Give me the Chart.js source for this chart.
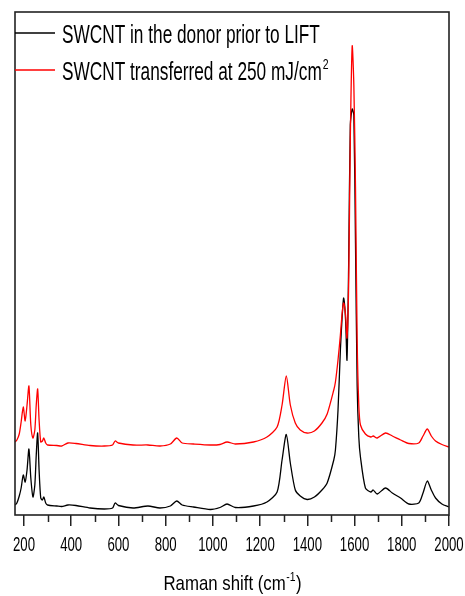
<!DOCTYPE html>
<html>
<head>
<meta charset="utf-8">
<script src="https://cdn.jsdelivr.net/npm/chart.js@4.4.1/dist/chart.umd.min.js"></script>
<style>
    html, body { margin: 0; padding: 0; background: #fff; }
</style>
</head>
<body>
<canvas id="ramanChart" width="465" height="596"></canvas>
<script>
// Data (intensitas dalam satuan sembarang)
const ramanShift = [
    162, 170, 180, 188, 197, 205, 213, 221, 229, 238, 246, 252, 258, 264, 271, 278, 284, 292, 300,
    339, 360, 386, 420, 480, 540, 575, 586, 600, 662, 725, 776, 820, 847, 870, 918, 989, 1030,
    1060, 1095, 1172, 1229, 1272, 1293, 1311, 1328, 1349, 1370, 1399, 1430, 1462, 1484, 1512,
    1519, 1530, 1540, 1548, 1554, 1562, 1568, 1575, 1582, 1590, 1597, 1604, 1611, 1618, 1625,
    1646, 1669, 1679, 1696, 1731, 1760, 1795, 1830, 1872, 1890, 1908, 1925, 1943, 1970, 2000
];
const donorIntensity = [
    10, 12, 19, 27, 40, 33, 45, 66, 37, 18, 30, 60, 82, 45, 17, 15, 18, 12, 10,
    9, 8.5, 10, 9.5, 7, 6, 7, 12, 9.5, 7, 9, 7, 9, 14, 10, 8, 5.5, 7.5,
    11, 7.5, 9, 13, 23, 55, 80.5, 52, 25, 19, 15.5, 18, 25, 32, 55,
    65, 105, 165, 200, 217, 195, 155, 250, 390, 406, 400, 272, 130, 78, 58,
    27, 23, 25, 21, 27, 22, 17, 11, 12, 22, 34, 25, 17, 11, 8
];
const transferredIntensity = [
    73, 75, 81, 93, 108, 94, 110, 129, 90, 77, 85, 110, 126, 95, 73, 74, 77, 72, 70,
    69.5, 69, 72, 71.5, 69.5, 69, 70, 74, 72, 70, 70, 69, 71, 77, 72, 71, 70, 70.5,
    73, 71, 73, 78, 88, 110, 139, 110, 92, 85, 82, 84, 92, 101, 125,
    133, 155, 180, 203, 212, 200, 177, 230, 375, 469, 430, 328, 175, 110, 90,
    81, 78, 79, 77, 82, 79, 75, 71.5, 72, 79, 86, 79, 74, 70.5, 68
];
const xTickValues = [200, 400, 600, 800, 1000, 1200, 1400, 1600, 1800, 2000];
const xMinorTicks = [300, 500, 700, 900, 1100, 1300, 1500, 1700, 1900];
const seriesLabels = ['SWCNT in the donor prior to LIFT', 'SWCNT transferred at 250 mJ/cm'];
const seriesColors = ['#000000', '#ff0000'];

const FONT = '"Liberation Sans", Arial, sans-serif';

// Tulis teks yang dipersempit secara horizontal (gambar asli terlihat "narrow")
function squeezedText(ctx, text, x, y, sx, size, align) {
    ctx.save();
    ctx.font = size + 'px ' + FONT;
    ctx.translate(x, y);
    ctx.scale(sx, 1);
    ctx.textAlign = align || 'left';
    ctx.textBaseline = 'alphabetic';
    ctx.fillText(text, 0, 0);
    const w = ctx.measureText(text).width * sx;
    ctx.restore();
    return w;
}

function textWidth(ctx, text, size, sx) {
    ctx.save();
    ctx.font = size + 'px ' + FONT;
    const w = ctx.measureText(text).width * sx;
    ctx.restore();
    return w;
}

// Plugin: bingkai, tick minor, label tick, judul sumbu, dan legenda
const framePlugin = {
    id: 'frame',
    afterDraw(chart) {
        const ctx = chart.ctx;
        const area = chart.chartArea;
        const xScale = chart.scales.x;

        ctx.save();
        ctx.strokeStyle = '#222';
        ctx.lineWidth = 1.6;
        ctx.strokeRect(area.left, area.top, area.right - area.left, area.bottom - area.top);

        // tick minor
        ctx.lineWidth = 1.5;
        xMinorTicks.forEach(function(v) {
            const px = Math.round(xScale.getPixelForValue(v)) + 0.5;
            ctx.beginPath();
            ctx.moveTo(px, area.bottom);
            ctx.lineTo(px, area.bottom + 7);
            ctx.stroke();
        });

        // label tick
        ctx.fillStyle = '#000';
        xTickValues.forEach(function(v) {
            const px = xScale.getPixelForValue(v);
            squeezedText(ctx, String(v), px, 551, 0.66, 20, 'center');
        });

        // judul sumbu x: Raman shift (cm-1)
        const tSx = 0.8;
        const w1 = textWidth(ctx, 'Raman shift (cm', 21, tSx);
        const w2 = textWidth(ctx, '-1', 13, tSx);
        const w3 = textWidth(ctx, ')', 21, tSx);
        let tx = (area.left + area.right) / 2 - (w1 + w2 + w3) / 2;
        squeezedText(ctx, 'Raman shift (cm', tx, 590, tSx, 21);
        tx += w1;
        squeezedText(ctx, '-1', tx + 0.5, 581, tSx, 13);
        tx += w2 + 1;
        squeezedText(ctx, ')', tx, 590, tSx, 21);

        // legenda
        const legendY = [33, 70];
        const textBase = [42.5, 80];
        ctx.lineWidth = 1.3;
        seriesLabels.forEach(function(label, i) {
            ctx.strokeStyle = seriesColors[i];
            ctx.beginPath();
            ctx.moveTo(area.left, legendY[i]);
            ctx.lineTo(area.left + 40, legendY[i]);
            ctx.stroke();
            ctx.fillStyle = '#000';
            const w = squeezedText(ctx, label, 62, textBase[i], 0.69, 25);
            if (i === 1) {
                squeezedText(ctx, '2', 62 + w + 1, 68.5, 0.75, 14);
            }
        });
        ctx.restore();
    }
};

document.addEventListener('DOMContentLoaded', function() {
    const ctx = document.getElementById('ramanChart');

    new Chart(ctx.getContext('2d'), {
        type: 'line',
        data: {
            labels: ramanShift,
            datasets: [{
                label: seriesLabels[0],
                data: ramanShift.map((x, i) => ({ x: x, y: donorIntensity[i] })),
                borderColor: seriesColors[0],
                borderWidth: 1.3,
                pointRadius: 0,
                tension: 0.25,
                order: 1
            }, {
                label: seriesLabels[1],
                data: ramanShift.map((x, i) => ({ x: x, y: transferredIntensity[i] })),
                borderColor: seriesColors[1],
                borderWidth: 1.3,
                pointRadius: 0,
                tension: 0.25,
                order: 0
            }]
        },
        options: {
            responsive: false,
            animation: false,
            devicePixelRatio: 1,
            layout: {
                padding: { left: 15, right: 16, top: 12, bottom: 0 }
            },
            plugins: {
                legend: { display: false },
                tooltip: { enabled: false }
            },
            scales: {
                x: {
                    type: 'linear',
                    min: 162,
                    max: 2000,
                    afterBuildTicks: function(scale) {
                        scale.ticks = xTickValues.map(v => ({ value: v }));
                    },
                    afterFit: function(scale) {
                        scale.height = 81;
                    },
                    ticks: { display: false },
                    border: { display: false },
                    grid: {
                        drawOnChartArea: false,
                        drawTicks: true,
                        tickLength: 11,
                        color: '#222',
                        lineWidth: 1.5
                    }
                },
                y: {
                    display: false,
                    min: 0,
                    max: 503
                }
            }
        },
        plugins: [framePlugin]
    });
});
</script>
</body>
</html>
